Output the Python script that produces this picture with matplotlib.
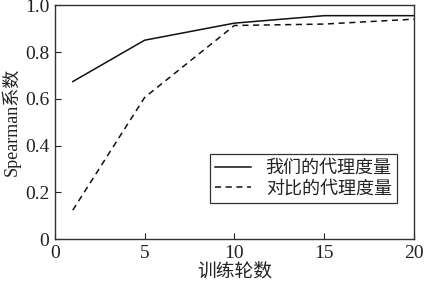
import matplotlib
matplotlib.use('Agg')
import matplotlib.pyplot as plt
from matplotlib.ticker import FuncFormatter

plt.rcParams['font.family'] = ['Liberation Serif', 'Noto Sans CJK SC']

epochs = [1, 5, 10, 15, 20]
ours = [0.674, 0.851, 0.924, 0.956, 0.956]
baseline = [0.124, 0.606, 0.914, 0.920, 0.941]
labels = ['我们的代理度量', '对比的代理度量']

fig = plt.figure(figsize=(4.25, 2.83), dpi=100)
ax = fig.add_axes([0.129, 0.155, 0.845, 0.826])

ax.plot(epochs, ours, '-', color='#111111', linewidth=1.1, label=labels[0])
ax.plot(epochs, baseline, '--', color='#111111', linewidth=1.1, dashes=(4, 3), label=labels[1])

ax.set_xlim(0, 20)
ax.set_ylim(0, 1.0)
ax.set_xticks([0, 5, 10, 15, 20])
ax.set_yticks([0, 0.2, 0.4, 0.6, 0.8, 1.0])
ax.yaxis.set_major_formatter(FuncFormatter(lambda v, p: '0' if v == 0 else f'{v:.1f}'))
ax.tick_params(direction='in', labelsize=14, length=4, width=0.8, pad=4, colors='#222222')
for s in ax.spines.values():
    s.set_linewidth(1.0)
    s.set_color('#333333')

ax.set_xlabel('训练轮数', fontsize=13.5, color='#222222')
ax.xaxis.set_label_coords(0.5, -0.1)
ax.set_ylabel('Spearman系数', fontsize=13, labelpad=3, color='#222222')

leg = ax.legend(loc='lower right', bbox_to_anchor=(0.953, 0.155), fontsize=13,
                frameon=True, fancybox=False, edgecolor='black', borderpad=0.3,
                handlelength=2.0, handletextpad=0.8, labelspacing=0.2, borderaxespad=0)
leg.get_frame().set_linewidth(0.9)
for t in leg.get_texts():
    t.set_color('#222222')

fig.savefig('out.png', dpi=100)
